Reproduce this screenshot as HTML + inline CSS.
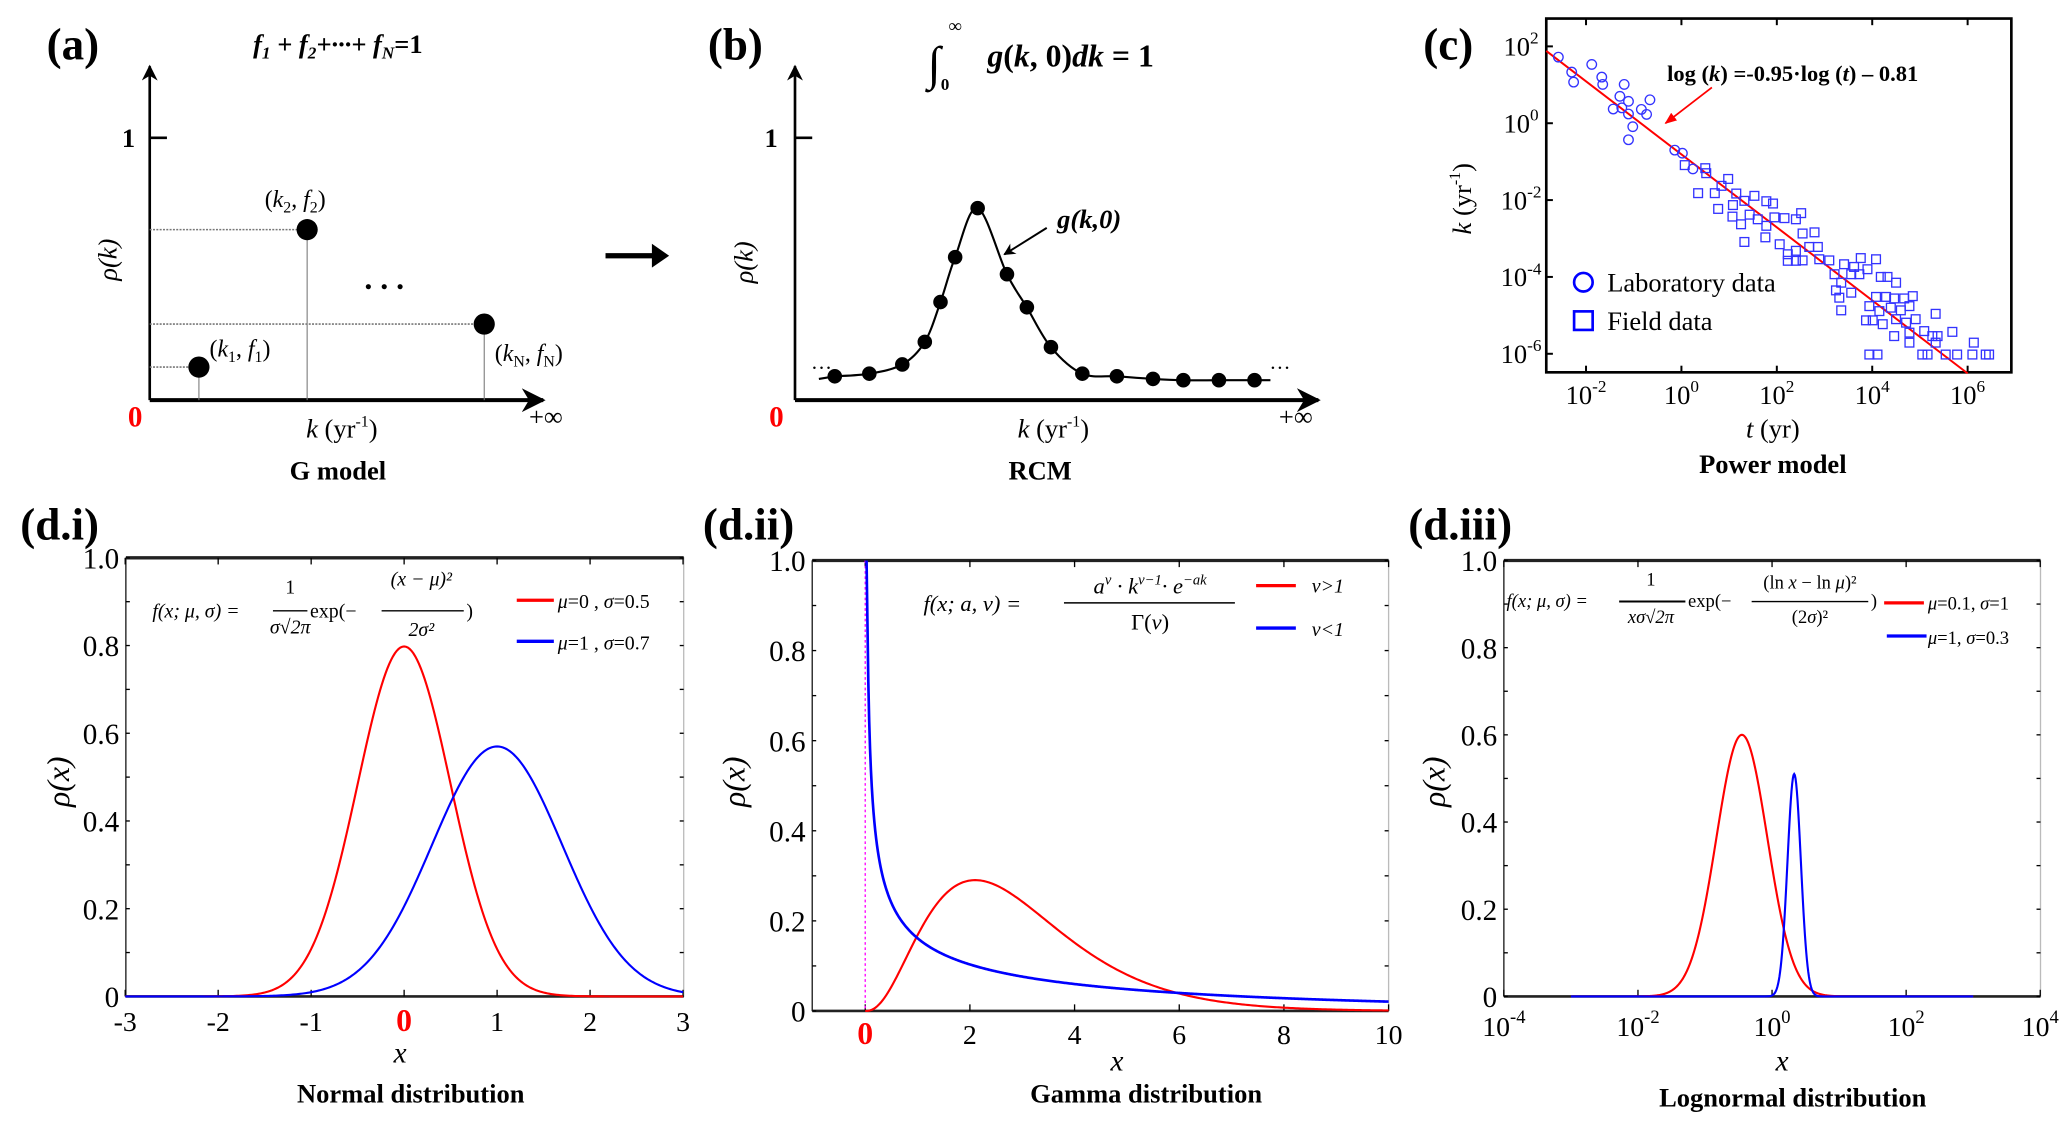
<!DOCTYPE html>
<html><head><meta charset="utf-8"><style>
html,body{margin:0;padding:0;background:#fff;}
svg{display:block;font-family:"Liberation Serif",serif;}
</style></head><body>
<svg id="fig" width="2067" height="1124" viewBox="0 0 1560 848.3" preserveAspectRatio="none" xmlns="http://www.w3.org/2000/svg">
<defs>
<marker id="ah" viewBox="0 0 10 10" refX="9" refY="5" markerWidth="6" markerHeight="6" orient="auto"><path d="M0,0 L10,5 L0,10 L3,5 z" fill="#000"/></marker>
<marker id="ahr" viewBox="0 0 10 10" refX="9" refY="5" markerWidth="7" markerHeight="7" orient="auto"><path d="M0,1 L10,5 L0,9 z" fill="#f00"/></marker>
</defs>

<!-- Panel a -->
<g>
<text x="55" y="45" font-size="34" font-weight="bold" text-anchor="middle">(a)</text>
<text x="255" y="40" font-size="20" font-weight="bold" font-style="italic" text-anchor="middle">f<tspan font-size="13" dy="4">1</tspan><tspan dy="-4"> + f</tspan><tspan font-size="13" dy="4">2</tspan><tspan dy="-4">+···+ f</tspan><tspan font-size="13" dy="4">N</tspan><tspan dy="-4" font-style="normal">=1</tspan></text>
<line x1="113" y1="302" x2="113" y2="50" stroke="#000" stroke-width="2" marker-end="url(#ah)"/>
<line x1="113" y1="302" x2="410" y2="302" stroke="#000" stroke-width="3" marker-end="url(#ah)"/>
<line x1="113" y1="104" x2="126" y2="104" stroke="#000" stroke-width="2"/>
<text x="97" y="111" font-size="20" font-weight="bold" text-anchor="middle">1</text>
<text x="102" y="322" font-size="22" font-weight="bold" fill="#f00" text-anchor="middle">0</text>
<text x="412" y="321" font-size="20" text-anchor="middle">+∞</text>
<text x="258" y="330" font-size="20" text-anchor="middle"><tspan font-style="italic">k</tspan> (yr<tspan font-size="12" dy="-8">-1</tspan><tspan dy="8">)</tspan></text>
<text x="255" y="362" font-size="20" font-weight="bold" text-anchor="middle">G model</text>
<text transform="translate(88,196) rotate(-90)" font-size="20" font-style="italic" text-anchor="middle">ρ(k)</text>
<g id="ga"></g>
<text x="293" y="218" font-size="24" font-weight="bold" text-anchor="middle" letter-spacing="6">...</text>
</g>

<path d="M457,191 L492,191 L492,184 L505,193 L492,202 L492,195 L457,195 z" fill="#000"/>

<!-- Panel b -->
<g>
<text x="555" y="45" font-size="34" font-weight="bold" text-anchor="middle">(b)</text>
<text x="705" y="60" font-size="36" font-style="italic" text-anchor="middle">∫</text>
<text x="716" y="24" font-size="14" font-weight="bold">∞</text>
<text x="710" y="68" font-size="13" font-weight="bold">0</text>
<text x="808" y="50" font-size="24" font-weight="bold" text-anchor="middle"><tspan font-style="italic">g</tspan>(<tspan font-style="italic">k</tspan>, 0)<tspan font-style="italic">dk</tspan> = 1</text>
<line x1="600" y1="302" x2="600" y2="50" stroke="#000" stroke-width="2" marker-end="url(#ah)"/>
<line x1="600" y1="302" x2="995" y2="302" stroke="#000" stroke-width="3" marker-end="url(#ah)"/>
<line x1="600" y1="104" x2="613" y2="104" stroke="#000" stroke-width="2"/>
<text x="582" y="111" font-size="20" font-weight="bold" text-anchor="middle">1</text>
<text x="586" y="322" font-size="22" font-weight="bold" fill="#f00" text-anchor="middle">0</text>
<text x="978" y="321" font-size="20" text-anchor="middle">+∞</text>
<text x="795" y="330" font-size="20" text-anchor="middle"><tspan font-style="italic">k</tspan> (yr<tspan font-size="12" dy="-8">-1</tspan><tspan dy="8">)</tspan></text>
<text x="785" y="362" font-size="20" font-weight="bold" text-anchor="middle">RCM</text>
<text transform="translate(568,198) rotate(-90)" font-size="20" font-style="italic" text-anchor="middle">ρ(k)</text>
<text x="612" y="283" font-size="16">···</text>
<text x="958" y="283" font-size="16">···</text>
<g id="gb"></g>
<text x="822" y="172" font-size="20" font-weight="bold" font-style="italic" text-anchor="middle">g(k,0)</text>
<line x1="790" y1="172" x2="758" y2="192" stroke="#000" stroke-width="1.5" marker-end="url(#ah)"/>
</g>

<!-- Panel c -->
<g>
<text x="1093" y="45" font-size="34" font-weight="bold" text-anchor="middle">(c)</text>
<rect x="1167" y="14" width="351" height="267" fill="none" stroke="#000" stroke-width="2"/>
<g id="gc"></g>
<text x="1353" y="61" font-size="17" font-weight="bold" text-anchor="middle">log (<tspan font-style="italic">k</tspan>) =-0.95·log (<tspan font-style="italic">t</tspan>) – 0.81</text>
<line x1="1292" y1="66" x2="1257" y2="93" stroke="#f00" stroke-width="1.3" marker-end="url(#ahr)"/>
<circle cx="1195" cy="213" r="7" fill="none" stroke="#00f" stroke-width="2"/>
<text x="1213" y="220" font-size="20">Laboratory data</text>
<rect x="1188" y="235" width="14" height="14" fill="none" stroke="#00f" stroke-width="2"/>
<text x="1213" y="249" font-size="20">Field data</text>
<text transform="translate(1110,150) rotate(-90)" font-size="20" text-anchor="middle"><tspan font-style="italic">k</tspan> (yr<tspan font-size="12" dy="-8">-1</tspan><tspan dy="8">)</tspan></text>
<text x="1338" y="330" font-size="20" text-anchor="middle"><tspan font-style="italic">t</tspan> (yr)</text>
<text x="1338" y="357" font-size="20" font-weight="bold" text-anchor="middle">Power model</text>
</g>

<!-- Panels d -->
<g id="gd1"></g>
<g id="gd2"></g>
<g id="gd3"></g>

<text x="45" y="407" font-size="34" font-weight="bold" text-anchor="middle">(d.i)</text>
<text x="565" y="407" font-size="34" font-weight="bold" text-anchor="middle">(d.ii)</text>
<text x="1102" y="407" font-size="34" font-weight="bold" text-anchor="middle">(d.iii)</text>

<!-- d.i texts -->
<text x="302" y="802" font-size="22" font-style="italic" text-anchor="middle">x</text>
<text x="310" y="832" font-size="20" font-weight="bold" text-anchor="middle">Normal distribution</text>
<text transform="translate(52,590) rotate(-90)" font-size="24" font-style="italic" text-anchor="middle">ρ(x)</text>
<g font-size="15">
<text x="115" y="466" font-style="italic">f(x; μ, σ) =</text>
<text x="219" y="448" text-anchor="middle">1</text><line x1="206" y1="461" x2="232" y2="461" stroke="#000"/>
<text x="219" y="478" text-anchor="middle" font-style="italic">σ√2π</text>
<text x="234" y="466">exp(−</text>
<text x="318" y="442" text-anchor="middle" font-style="italic">(x − μ)²</text><line x1="288" y1="461" x2="350" y2="461" stroke="#000"/>
<text x="318" y="480" text-anchor="middle" font-style="italic">2σ²</text>
<text x="352" y="466">)</text>
</g>
<line x1="390" y1="453" x2="418" y2="453" stroke="#f00" stroke-width="2.5"/>
<text x="421" y="459" font-size="15"><tspan font-style="italic">μ</tspan>=0 , <tspan font-style="italic">σ</tspan>=0.5</text>
<line x1="390" y1="484" x2="418" y2="484" stroke="#00f" stroke-width="2.5"/>
<text x="421" y="490" font-size="15"><tspan font-style="italic">μ</tspan>=1 , <tspan font-style="italic">σ</tspan>=0.7</text>

<!-- d.ii texts -->
<text x="843" y="808" font-size="22" font-style="italic" text-anchor="middle">x</text>
<text x="865" y="832" font-size="20" font-weight="bold" text-anchor="middle">Gamma distribution</text>
<text transform="translate(562,590) rotate(-90)" font-size="24" font-style="italic" text-anchor="middle">ρ(x)</text>
<g font-size="17">
<text x="697" y="461" font-style="italic">f(x; a, v) =</text>
<text x="868" y="448" text-anchor="middle" font-style="italic">a<tspan font-size="11" dy="-7">v</tspan><tspan dy="7"> · k</tspan><tspan font-size="11" dy="-7">v−1</tspan><tspan dy="7">· e</tspan><tspan font-size="11" dy="-7">−ak</tspan></text>
<line x1="803" y1="455" x2="932" y2="455" stroke="#000" stroke-width="1.2"/>
<text x="868" y="475" text-anchor="middle">Γ(<tspan font-style="italic">v</tspan>)</text>
</g>
<line x1="948" y1="442" x2="978" y2="442" stroke="#f00" stroke-width="2.5"/>
<text x="990" y="447" font-size="15" font-style="italic">v&gt;1</text>
<line x1="948" y1="474" x2="978" y2="474" stroke="#00f" stroke-width="2.5"/>
<text x="990" y="480" font-size="15" font-style="italic">v&lt;1</text>

<!-- d.iii texts -->
<text x="1345" y="808" font-size="22" font-style="italic" text-anchor="middle">x</text>
<text x="1353" y="835" font-size="20" font-weight="bold" text-anchor="middle">Lognormal distribution</text>
<text transform="translate(1090,590) rotate(-90)" font-size="24" font-style="italic" text-anchor="middle">ρ(x)</text>
<g font-size="14">
<text x="1137" y="458" font-style="italic">f(x; μ, σ) =</text>
<text x="1246" y="442" text-anchor="middle">1</text><line x1="1222" y1="454" x2="1272" y2="454" stroke="#000" stroke-width="1.5"/>
<text x="1246" y="470" text-anchor="middle" font-style="italic">xσ√2π</text>
<text x="1274" y="458">exp(−</text>
<text x="1366" y="444" text-anchor="middle">(ln <tspan font-style="italic">x</tspan> − ln <tspan font-style="italic">μ</tspan>)²</text><line x1="1322" y1="454" x2="1410" y2="454" stroke="#000"/>
<text x="1366" y="470" text-anchor="middle">(2<tspan font-style="italic">σ</tspan>)²</text>
<text x="1412" y="458">)</text>
</g>
<line x1="1422" y1="455" x2="1452" y2="455" stroke="#f00" stroke-width="2.5"/>
<text x="1455" y="460" font-size="14"><tspan font-style="italic">μ</tspan>=0.1, <tspan font-style="italic">σ</tspan>=1</text>
<line x1="1424" y1="480" x2="1454" y2="480" stroke="#00f" stroke-width="2.5"/>
<text x="1455" y="486" font-size="14"><tspan font-style="italic">μ</tspan>=1, <tspan font-style="italic">σ</tspan>=0.3</text>
</svg>
<script>
var NS="http://www.w3.org/2000/svg";
// ---- data ----
var gPointsK=[0.125,0.40,0.85];          // panel a: relative k positions
var gPointsF=[0.126,0.65,0.29];          // panel a: rho values
var gPointLabels=["k1,f1","k2,f2","kN,fN"];
var rcmK=[0.076,0.142,0.205,0.248,0.278,0.306,0.349,0.405,0.443,0.489,0.549,0.615,0.684,0.742,0.81,0.878];
var rcmRho=[0.091,0.101,0.136,0.222,0.374,0.545,0.732,0.48,0.354,0.202,0.101,0.091,0.081,0.076,0.076,0.076];
var labLogT=[-2.58,-2.3,-2.26,-1.88,-1.67,-1.65,-1.2,-1.29,-1.11,-1.43,-1.25,-1.11,-0.84,-0.73,-0.66,-1.02,-1.11,-0.14,0.02,0.24];
var labLogK=[1.72,1.33,1.07,1.53,1.2,1.01,1.01,0.7,0.57,0.37,0.4,0.24,0.36,0.23,0.61,-0.09,-0.43,-0.7,-0.78,-1.19];
var fieldLogT=[0.07,0.5,0.52,0.35,0.7,0.98,0.84,1.15,0.77,1.08,1.32,1.53,1.78,1.92,1.07,1.25,1.43,1.6,1.78,1.95,2.16,2.4,2.51,1.32,1.76,2.06,2.23,2.4,2.54,2.79,2.68,2.86,2.23,2.4,2.54,2.89,3.1,3.41,3.62,3.76,4.08,3.21,3.35,3.56,3.73,3.9,4.18,4.32,4.5,3.24,3.56,3.31,3.35,4.08,4.29,4.46,4.67,4.85,3.94,4.15,4.39,4.6,4.78,3.87,4.01,4.22,4.5,4.71,4.91,4.46,4.78,4.78,5.09,5.26,5.37,5.33,5.68,5.33,6.13,3.94,4.11,5.05,5.16,5.54,5.78,6.1,6.38,6.45];
var fieldLogK=[-1.09,-1.17,-1.3,-1.82,-1.82,-1.45,-1.63,-1.83,-2.23,-2.13,-2.02,-1.89,-2.03,-2.09,-2.43,-2.63,-2.38,-2.5,-2.67,-2.45,-2.47,-2.5,-2.34,-3.09,-2.97,-3.15,-3.41,-3.32,-2.87,-2.84,-3.22,-3.22,-3.58,-3.58,-3.57,-3.54,-3.57,-3.67,-3.74,-3.51,-3.54,-3.93,-4.15,-3.93,-3.93,-3.8,-4.0,-4.0,-4.15,-4.35,-4.41,-4.54,-4.87,-4.52,-4.52,-4.56,-4.56,-4.5,-4.76,-4.89,-4.8,-4.87,-4.76,-5.13,-5.13,-5.23,-5.1,-5.19,-5.1,-5.54,-5.45,-5.71,-5.41,-5.54,-5.54,-4.96,-5.43,-5.71,-5.71,-6.02,-6.02,-6.02,-6.02,-6.02,-6.02,-6.02,-6.02,-6.02];
var fitSlope=-0.95, fitIntercept=-0.81;
var cXTickExp=[-2,0,2,4,6];
var cYTickExp=[2,0,-2,-4,-6];
var normalMu=[0,1], normalSigma=[0.5,0.7];
var gammaShape=[3.5,0.5], gammaRate=[1.19,0.1];
var lognCenterLog=[-0.45,0.33], lognWidthLog=[0.38,0.1], lognPeak=[0.6,0.51];
var d1XTicks=[-3,-2,-1,0,1,2,3];
var d2XTicks=[0,2,4,6,8,10];
var d3XTickExp=[-4,-2,0,2,4];
var dYTicks=[0,0.2,0.4,0.6,0.8,1.0];
var dYTickLabels=["0","0.2","0.4","0.6","0.8","1.0"];
var colors=["#f00","#00f"];

function mk(t,a,p){var e=document.createElementNS(NS,t);for(var k in a)e.setAttribute(k,a[k]);(p||null)&&p.appendChild(e);return e;}
// ---- panel a ----
var ga=document.getElementById('ga');
var ax=function(v){return 113+v*297;}, ay=function(v){return 302-v*198;};
gPointsK.forEach(function(k,i){
  var x=ax(k),y=ay(gPointsF[i]);
  var h=mk('line',{x1:113,y1:y,x2:x,y2:y,stroke:'#777','stroke-width':1.2,'stroke-dasharray':'1.5,1'},ga);
  
  
  var v=mk('line',{x1:x,y1:y,x2:x,y2:302,stroke:'#777','stroke-width':0.8},ga);
  
  
  var c=mk('circle',{cx:x,cy:y,r:8,fill:'#000'},ga);
  
  
  var p=gPointLabels[i].split(',');
  var t=mk('text',{x:i==2?x+8:x+(i==0?8:-32),y:i==0?y-8:(i==1?y-17:y+28),'font-size':18},ga);
  t.innerHTML='(<tspan font-style="italic">'+p[0][0]+'</tspan><tspan font-size="12" dy="4">'+p[0].slice(1)+'</tspan><tspan dy="-4">, </tspan><tspan font-style="italic">'+p[1][0]+'</tspan><tspan font-size="12" dy="4">'+p[1].slice(1)+'</tspan><tspan dy="-4">)</tspan>';
  
  
});
// ---- panel b ----
var gb=document.getElementById('gb');
var bx=function(v){return 600+v*395;}, by=function(v){return 302-v*198;};
var pts=rcmK.map(function(k,i){return [bx(k),by(rcmRho[i])];});
var d='M'+(pts[0][0]-12)+','+(pts[0][1]+2);
for(var i=0;i<pts.length;i++){
  var p0=pts[Math.max(0,i-1)],p1=pts[i],p2=pts[Math.min(pts.length-1,i+1)],pm=pts[Math.max(0,i-2)];
  if(i==0){d+=' L'+p1[0]+','+p1[1];continue;}
  var c1=[p0[0]+(p1[0]-pm[0])/6,p0[1]+(p1[1]-pm[1])/6],c2=[p1[0]-(p2[0]-p0[0])/6,p1[1]-(p2[1]-p0[1])/6];
  d+=' C'+c1[0]+','+c1[1]+' '+c2[0]+','+c2[1]+' '+p1[0]+','+p1[1];
}
d+=' L'+(pts[pts.length-1][0]+12)+','+pts[pts.length-1][1];
var rl=mk('path',{d:d,fill:'none',stroke:'#000','stroke-width':1.6},gb);


pts.forEach(function(p){var c=mk('circle',{cx:p[0],cy:p[1],r:5.5,fill:'#000'},gb);
  
  });
// ---- panel c ----
var gc=document.getElementById('gc');
var cx=function(l){return 1269+36*l;}, cy=function(l){return 93-29*l;};
cXTickExp.forEach(function(e){
  mk('line',{x1:cx(e),y1:281,x2:cx(e),y2:276,stroke:'#000','stroke-width':1.5},gc);
  mk('line',{x1:cx(e),y1:14,x2:cx(e),y2:19,stroke:'#000','stroke-width':1.5},gc);
  var t=mk('text',{x:cx(e),y:305,'font-size':20,'text-anchor':'middle'},gc);
  t.innerHTML='10<tspan font-size="13" dy="-9">'+e+'</tspan>';
  
  
});
cYTickExp.forEach(function(e){
  mk('line',{x1:1167,y1:cy(e),x2:1172,y2:cy(e),stroke:'#000','stroke-width':1.5},gc);
  var t=mk('text',{x:1148,y:cy(e)+7,'font-size':20,'text-anchor':'middle'},gc);
  t.innerHTML='10<tspan font-size="13" dy="-9">'+e+'</tspan>';
  
  
});
var l0=(1167-1269)/36,l1=(1485-1269)/36;
var fl=mk('line',{x1:cx(l0),y1:cy(fitSlope*l0+fitIntercept),x2:cx(l1),y2:cy(fitSlope*l1+fitIntercept),stroke:'#f00','stroke-width':1.5},gc);


labLogT.forEach(function(t,i){var c=mk('circle',{cx:cx(t),cy:cy(labLogK[i]),r:3.6,fill:'none',stroke:'#33f','stroke-width':1},gc);
  
  });
fieldLogT.forEach(function(t,i){var r=mk('rect',{x:cx(t)-3.3,y:cy(fieldLogK[i])-3.3,width:6.6,height:6.6,fill:'none',stroke:'#33f','stroke-width':1},gc);
  
  });
// ---- d panels ----
function frame(g,x0,x1,y0,y1,yfun){
  mk('rect',{x:x0,y:y0,width:x1-x0,height:y1-y0,fill:'none',stroke:'#bbb','stroke-width':1},g);
  mk('line',{x1:x0,y1:y0,x2:x1,y2:y0,stroke:'#222','stroke-width':2.5},g);
  mk('line',{x1:x0,y1:y1,x2:x1,y2:y1,stroke:'#222','stroke-width':2},g);
  mk('line',{x1:x0,y1:y0,x2:x0,y2:y1,stroke:'#222','stroke-width':1},g);
  for(var v=0;v<=1.0001;v+=0.1){mk('line',{x1:x0,y1:yfun(v),x2:x0+3,y2:yfun(v),stroke:'#000'},g);mk('line',{x1:x1-3,y1:yfun(v),x2:x1,y2:yfun(v),stroke:'#000'},g);}
  dYTicks.forEach(function(v,i){var t=mk('text',{x:x0-5,y:yfun(v)+8,'font-size':22,'text-anchor':'end'},g);t.textContent=dYTickLabels[i];
    
    });
}
function curve(g,xs,fx,fy,color,w,name){
  var d='';xs.forEach(function(v,i){var y=fy(v);d+=(i?'L':'M')+fx(v).toFixed(2)+','+y.toFixed(2);});
  var p=mk('path',{d:d,fill:'none',stroke:color,'stroke-width':w},g);
  
  
}
function range(a,b,n){var r=[];for(var i=0;i<=n;i++)r.push(a+(b-a)*i/n);return r;}
// d.i
var g1=document.getElementById('gd1');
var x1f=function(v){return 305+70.17*v;}, y1f=function(v){return 752-331*v;};
frame(g1,95,516,421,752,y1f);
d1XTicks.forEach(function(v){mk('line',{x1:x1f(v),y1:752,x2:x1f(v),y2:747,stroke:'#000'},g1);mk('line',{x1:x1f(v),y1:421,x2:x1f(v),y2:426,stroke:'#000'},g1);
  var t=mk('text',{x:x1f(v),y:778,'font-size':v==0?24:21,'text-anchor':'middle',fill:v==0?'#f00':'#000','font-weight':v==0?'bold':'normal'},g1);t.textContent=String(v);
  
  });
normalMu.forEach(function(mu,i){var s=normalSigma[i];
  curve(g1,range(-3,3,300),x1f,function(v){return y1f(Math.exp(-(v-mu)*(v-mu)/(2*s*s))/(s*Math.sqrt(2*Math.PI)));},colors[i],1.6,'normal-curve-'+i);});
// d.ii
var g2=document.getElementById('gd2');
var x2f=function(v){return 653+39.5*v;}, y2f=function(v){return 763-340*v;};
frame(g2,613,1048,423,763,y2f);
d2XTicks.forEach(function(v){mk('line',{x1:x2f(v),y1:763,x2:x2f(v),y2:758,stroke:'#000'},g2);mk('line',{x1:x2f(v),y1:423,x2:x2f(v),y2:428,stroke:'#000'},g2);
  var t=mk('text',{x:x2f(v),y:788,'font-size':v==0?24:21,'text-anchor':'middle',fill:v==0?'#f00':'#000','font-weight':v==0?'bold':'normal'},g2);t.textContent=String(v);
  
  });
mk('line',{x1:x2f(0),y1:423,x2:x2f(0),y2:763,stroke:'#f0f','stroke-width':1,'stroke-dasharray':'2,2'},g2);
function lgam(z){var c=[76.18009172947146,-86.50532032941677,24.01409824083091,-1.231739572450155,0.1208650973866179e-2,-0.5395239384953e-5];var x=z,y=z,t=x+5.5;t-=(x+0.5)*Math.log(t);var s=1.000000000190015;for(var j=0;j<6;j++)s+=c[j]/++y;return -t+Math.log(2.5066282746310005*s/x);}
gammaShape.forEach(function(v,i){var a=gammaRate[i];
  var xs=i==0?range(0,10,300):range(0.0255,10,600);
  curve(g2,xs,x2f,function(x){var p=Math.exp(v*Math.log(a)+(v-1)*Math.log(Math.max(x,1e-9))-a*x-lgam(v));return y2f(Math.min(p,1));},colors[i],i==0?1.6:2,'gamma-curve-'+i);});
// d.iii
var g3=document.getElementById('gd3');
var x3f=function(l){return 1135+50.6*(l+4);}, y3f=function(v){return 752-329*v;};
frame(g3,1135,1540,423,752,y3f);
d3XTickExp.forEach(function(e){mk('line',{x1:x3f(e),y1:752,x2:x3f(e),y2:747,stroke:'#000'},g3);mk('line',{x1:x3f(e),y1:423,x2:x3f(e),y2:428,stroke:'#000'},g3);
  var t=mk('text',{x:x3f(e),y:782,'font-size':21,'text-anchor':'middle'},g3);t.innerHTML='10<tspan font-size="14" dy="-10">'+e+'</tspan>';
  
  });
lognCenterLog.forEach(function(c,i){var w=lognWidthLog[i],pk=lognPeak[i];
  curve(g3,range(-3,3,600),x3f,function(l){return y3f(pk*Math.exp(-(l-c)*(l-c)/(2*w*w)));},colors[i],1.6,'lognormal-curve-'+i);});
</script>
</body></html>
